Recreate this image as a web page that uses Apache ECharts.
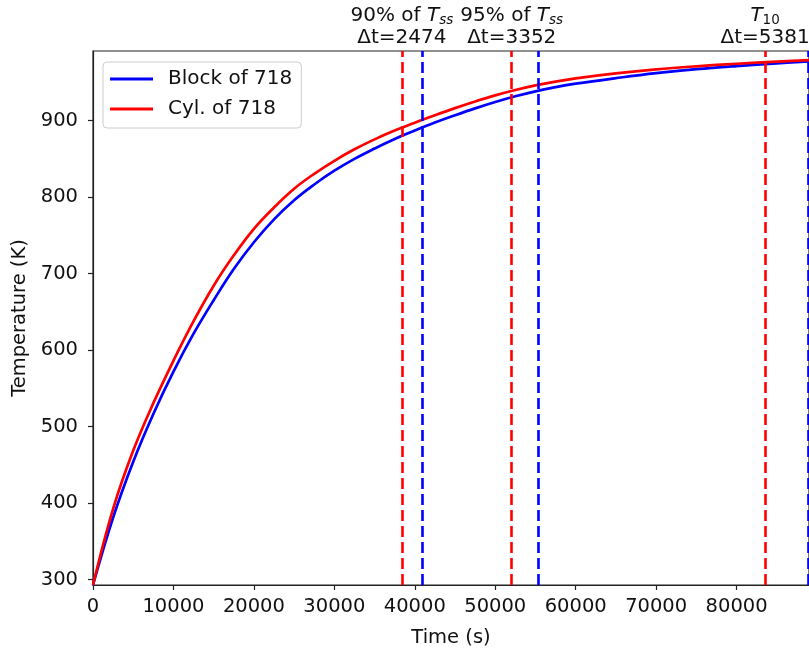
<!DOCTYPE html>
<html>
<head>
<meta charset="utf-8">
<script src="https://cdn.jsdelivr.net/npm/echarts@6/dist/echarts.min.js"></script>
<style>
html,body{margin:0;padding:0;background:#fff;}
#chart{width:809px;height:653px;}
</style>
</head>
<body>
<div id="chart"></div>
<script>
// ---- data ----
const timeS  = [0,2500,5000,7500,10000,12500,15000,17500,20000,22500,25000,27500,30000,32500,35000,37500,40000,42500,45000,47500,50000,52500,55000,57500,60000,65000,70000,75000,80000,85000,89000];
const blockK = [293,381.2,454.2,516.6,571.9,621.5,665.3,706,741,771,796,816.5,834.5,850,863.5,876,887,897.5,907,916,924.3,931.8,938.3,943.8,948.3,955.5,962,967.2,971.3,974.8,977.4];
const cylK   = [293,392.5,468.7,530.7,586.2,637.8,684.2,723.9,758.6,786.5,811,830.5,847.5,862.5,875.5,887,897.3,907,916.3,925,933,940,946,951,955.3,961.8,967,971,974.3,977,979];
const seriesNames = ['Block of 718', 'Cyl. of 718'];
const cylMarks   = [38400, 52050, 83540];
const blockMarks = [40874, 55402, 88921];
const markTitles = ['90% of {it|T}{sub|ss}', '95% of {it|T}{sub|ss}', '{it|T}{sub2|10}'];
const markDeltas = [2474, 3352, 5381];
const xTicks = [0,10000,20000,30000,40000,50000,60000,70000,80000];
const yTicks = [300,400,500,600,700,800,900];
const xRange = [0, 89000];
const yRange = [293, 991];

const FONT = 'DejaVu Sans';
const FS = 19.5;
const FS_L = 20;
const TXT = '#111';
const AX = '#222';

const chart = echarts.init(document.getElementById('chart'), null, {renderer:'canvas'});

const pairs = arr => timeS.map((t,i)=>[t, arr[i]]);

const dashStyle = color => ({color: color, width: 2.6, type: [11, 5], cap: 'butt'});

const cylMarkData = cylMarks.map((x,i)=>({
  xAxis: x,
  label: {
    show: true,
    position: 'end',
    distance: 2,
    formatter: markTitles[i] + '\nΔt=' + markDeltas[i],
    color: TXT, fontFamily: FONT, fontSize: FS_L, lineHeight: 22, align: 'center',
    rich: {
      it:   {fontStyle: 'italic', fontSize: FS_L, fontFamily: FONT, color: TXT, lineHeight: 22},
      sub:  {fontStyle: 'italic', fontSize: 13.5, fontFamily: FONT, color: TXT, padding: [8,0,0,0], lineHeight: 16},
      sub2: {fontSize: 13.5, fontFamily: FONT, color: TXT, padding: [8,0,0,0], lineHeight: 16}
    }
  }
}));
const blockMarkData = blockMarks.map(x=>({xAxis: x, label:{show:false}}));

const axisCommon = {
  axisLine: {show: true, lineStyle: {color: AX, width: 1.2}},
  axisTick: {show: true, inside: false, length: 5, lineStyle: {color: AX, width: 1.2}},
  splitLine: {show: false},
  nameTextStyle: {color: TXT, fontFamily: FONT, fontSize: FS}
};

chart.setOption({
  animation: false,
  backgroundColor: '#fff',
  grid: {left: 93, top: 51, right: 0, bottom: 67, show: true, borderColor: AX, borderWidth: 1.2, backgroundColor: 'transparent'},
  legend: {
    orient: 'vertical',
    left: 103, top: 62,
    padding: [7, 9, 9, 7],
    itemGap: 10,
    itemWidth: 43, itemHeight: 3,
    icon: 'rect',
    backgroundColor: 'rgba(255,255,255,0.85)',
    borderColor: '#cccccc', borderWidth: 1, borderRadius: 4,
    textStyle: {color: TXT, fontFamily: FONT, fontSize: FS_L, lineHeight: 20, padding: [0,0,0,10]},
    data: seriesNames
  },
  xAxis: Object.assign({}, axisCommon, {
    type: 'value', min: xRange[0], max: xRange[1],
    name: 'Time (s)', nameLocation: 'middle', nameGap: 43,
    axisTick: Object.assign({}, axisCommon.axisTick, {customValues: xTicks}),
    axisLabel: {customValues: xTicks, color: TXT, fontFamily: FONT, fontSize: FS, margin: 12, formatter: v => String(v)}
  }),
  yAxis: Object.assign({}, axisCommon, {
    type: 'value', min: yRange[0], max: yRange[1],
    name: 'Temperature (K)', nameLocation: 'middle', nameGap: 62,
    axisTick: Object.assign({}, axisCommon.axisTick, {customValues: yTicks}),
    axisLabel: {customValues: yTicks, color: TXT, fontFamily: FONT, fontSize: FS, margin: 15, formatter: v => String(v)}
  }),
  series: [
    {
      name: seriesNames[0], type: 'line', data: pairs(blockK),
      showSymbol: false, smooth: 0.4, clip: true,
      lineStyle: {color: '#0000ff', width: 2.7}, itemStyle: {color: '#0000ff'},
      z: 3,
      markLine: {silent: true, symbol: ['none','none'], lineStyle: dashStyle('#0000ff'), data: blockMarkData, animation: false}
    },
    {
      name: seriesNames[1], type: 'line', data: pairs(cylK),
      showSymbol: false, smooth: 0.4, clip: true,
      lineStyle: {color: '#ff0000', width: 2.7}, itemStyle: {color: '#ff0000'},
      z: 4,
      markLine: {silent: true, symbol: ['none','none'], lineStyle: dashStyle('#ff0000'), data: cylMarkData, animation: false}
    }
  ]
});
</script>
</body>
</html>
